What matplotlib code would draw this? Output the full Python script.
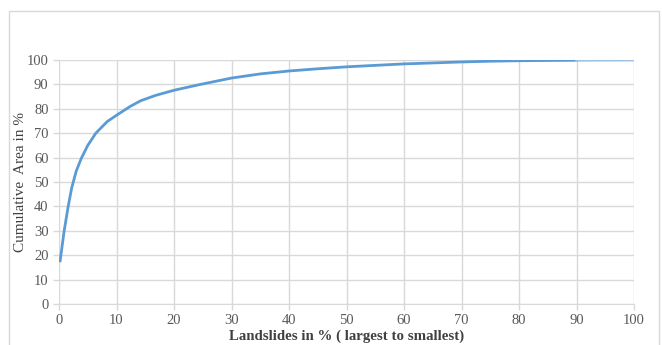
import numpy as np
import matplotlib.pyplot as plt
from matplotlib.patches import Rectangle

# values
landslides_pct = [0.2, 0.9, 1.6, 2.2, 3.0, 3.9, 5.0, 6.4, 8.4, 10.1, 12.4, 14.2,
                  16.8, 20.0, 24.4, 30.0, 35.0, 40.0, 45.0, 50.0, 55.0, 60.0,
                  65.0, 70.0, 75.0, 80.0, 85.0, 90.0]
cum_area_pct = [17.7, 30.0, 40.0, 47.5, 54.5, 59.8, 65.0, 70.0, 74.8, 77.5, 81.0, 83.3,
                85.5, 87.6, 89.9, 92.6, 94.3, 95.5, 96.4, 97.2, 97.8, 98.4,
                98.8, 99.2, 99.5, 99.7, 99.8, 99.9]
tail_x = [90.0, 100.0]
tail_y = [99.9, 100.0]

xticks = np.arange(0, 101, 10)
yticks = np.arange(0, 101, 10)

plt.rcParams['font.family'] = ['Liberation Serif', 'DejaVu Serif']

fig = plt.figure(figsize=(6.62, 3.45), dpi=100)
# light frame round the chart, open at the bottom edge of the image
fig.patches.append(Rectangle((9 / 662, -5 / 345), 650 / 662, 339 / 345,
                             transform=fig.transFigure, fill=False,
                             edgecolor='#d9d9d9', linewidth=1.0))
ax = fig.add_axes([59 / 662, 1 - 304 / 345, 575 / 662, 244 / 345])

ax.plot(landslides_pct, cum_area_pct, color='#5b9bd5', linewidth=2.0)
ax.plot(tail_x, tail_y, color='#9dc3e6', linewidth=2.0)

ax.set_xlim(0, 100)
ax.set_ylim(0, 100)
ax.set_xticks(xticks)
ax.set_yticks(yticks)
ax.grid(True, color='#d9d9d9', linewidth=1.0)
ax.set_axisbelow(True)
for s in ['top', 'right', 'left']:
    ax.spines[s].set_visible(False)
ax.spines['bottom'].set_color('#d9d9d9')
ax.tick_params(axis='both', colors='#d9d9d9', labelcolor='#595959',
               labelsize=10.5, length=4, width=1)
ax.set_xlabel('Landslides in % ( largest to smallest)', fontsize=10.7,
              fontweight='bold', color='#404040')
ax.set_ylabel('Cumulative  Area in %', fontsize=11, color='#404040')
ax.yaxis.set_label_coords(-0.056, 0.5)
ax.xaxis.set_label_coords(0.5, -0.105)

plt.savefig('out.png', dpi=100)
